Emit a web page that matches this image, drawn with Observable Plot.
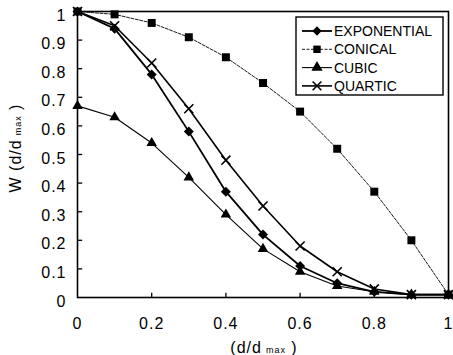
<!DOCTYPE html>
<html><head><meta charset="utf-8">
<script src="https://cdn.jsdelivr.net/npm/d3@7"></script>
<script src="https://cdn.jsdelivr.net/npm/@observablehq/plot@0.6"></script>
<style>
body{margin:0;background:#fff}
#chart{position:relative;width:453px;height:355px}
#chart svg{font-family:"Liberation Sans",Arial,Helvetica,sans-serif}
</style>
</head><body><div id="chart"></div>
<script>
const xValues     = [0, 0.1, 0.2, 0.3, 0.4, 0.5, 0.6, 0.7, 0.8, 0.9, 1];
const exponential = [1, 0.94, 0.78, 0.58, 0.37, 0.22, 0.11, 0.05, 0.02, 0.01, 0.01];
const conical     = [1, 0.99, 0.96, 0.91, 0.84, 0.75, 0.65, 0.52, 0.37, 0.20, 0.01];
const cubic       = [0.67, 0.63, 0.54, 0.42, 0.29, 0.17, 0.09, 0.04, 0.02, 0.01, 0.01];
const quartic     = [1, 0.95, 0.82, 0.66, 0.48, 0.32, 0.18, 0.09, 0.03, 0.01, 0.01];
const seriesNames = ["EXPONENTIAL", "CONICAL", "CUBIC", "QUARTIC"];
const xTicks = [0, 0.2, 0.4, 0.6, 0.8, 1];
const yTicks = [0, 0.1, 0.2, 0.3, 0.4, 0.5, 0.6, 0.7, 0.8, 0.9, 1];
const xLabel = ["(d/d", "max", " )"];
const yLabel = ["W (d/d", "max", " )"];

const seriesValues = [exponential, conical, cubic, quartic];
const styles = [
  {symbol: "diamond2", lineWidth: 1.8, dash: null, filled: true, r: 4.5},
  {symbol: "square", lineWidth: 0.9, dash: "3,1.5", filled: true, r: 4.5},
  {symbol: "triangle", lineWidth: 1.1, dash: null, filled: true, r: 3.9},
  {symbol: "times", lineWidth: 1.6, dash: null, filled: false, r: 4.2}
];
const fmt = d => String(d);

const marks = [];
seriesNames.forEach((name, i) => {
  const data = xValues.map((x, j) => ({x, y: seriesValues[i][j], series: name}));
  const s = styles[i];
  marks.push(Plot.line(data, {x: "x", y: "y", stroke: "black", strokeWidth: s.lineWidth, strokeDasharray: s.dash}));
  marks.push(Plot.dot(data, s.filled
    ? {x: "x", y: "y", symbol: () => s.symbol, r: s.r, fill: "black", stroke: "none"}
    : {x: "x", y: "y", symbol: () => s.symbol, r: s.r, stroke: "black", strokeWidth: 1.6, fill: "none"}));
});

const yInner = yTicks.slice(1, -1);
const xInner = xTicks.slice(1, -1);

const plot = Plot.plot({
  width: 453, height: 355,
  marginLeft: 77, marginRight: 5, marginTop: 11, marginBottom: 58,
  x: {domain: [0, 1]},
  y: {domain: [0, 1]},
  symbol: {type: "identity"},
  marks: [
    Plot.axisY(yTicks, {tickSize: 0, tickPadding: 11, dy: 4, label: null, fontSize: 16, tickFormat: fmt}),
    Plot.axisX(xTicks, {tickSize: 0, tickPadding: 20, label: null, fontSize: 16, tickFormat: fmt}),
    Plot.ruleY(yInner, {y: d => d, x1: 0, x2: 0.014, stroke: "black", strokeWidth: 1.3}),
    Plot.ruleX(xInner, {x: d => d, y1: 0, y2: 0.015, stroke: "black", strokeWidth: 1.3}),
    Plot.frame({stroke: "black", strokeWidth: 1.6}),
    ...marks
  ]
});
document.getElementById("chart").appendChild(plot);

const svg = d3.select(plot);
svg.selectAll('g[aria-label$="tick label"] text').style("letter-spacing", "1px");

// axis titles
const xt = svg.append("text").attr("x", 264).attr("y", 353).attr("text-anchor", "middle")
  .attr("font-size", 16).attr("letter-spacing", "1px");
xt.append("tspan").text(xLabel[0]);
xt.append("tspan").attr("font-size", 9).attr("dx", 4).text(xLabel[1]);
xt.append("tspan").attr("font-size", 16).text(xLabel[2]);

const yt = svg.append("text").attr("transform", "translate(21,148) rotate(-90)").attr("text-anchor", "middle")
  .attr("font-size", 16).attr("letter-spacing", "1px");
yt.append("tspan").text(yLabel[0]);
yt.append("tspan").attr("font-size", 9).attr("dx", 4).text(yLabel[1]);
yt.append("tspan").attr("font-size", 16).text(yLabel[2]);

// legend
const lg = svg.append("g").attr("transform", "translate(296,17)");
lg.append("rect").attr("x", 0).attr("y", 0).attr("width", 147).attr("height", 78)
  .style("fill", "#ffffff").style("stroke", "#000000").style("stroke-width", "1.4px");
const symMap = {diamond2: d3.symbolDiamond2, square: d3.symbolSquare, triangle: d3.symbolTriangle, times: d3.symbolTimes};
seriesNames.forEach((name, i) => {
  const s = styles[i];
  const row = lg.append("g").attr("transform", `translate(0,${14 + i * 18.3})`);
  row.append("line").attr("x1", 6).attr("x2", 36).attr("stroke", "black")
    .attr("stroke-width", s.lineWidth).attr("stroke-dasharray", s.dash);
  row.append("path").attr("transform", "translate(21,0)")
    .attr("d", d3.symbol(symMap[s.symbol], s.filled ? 55 : 52)())
    .attr("fill", s.filled ? "black" : "none").attr("stroke", s.filled ? "none" : "black").attr("stroke-width", 1.6);
  row.append("text").attr("x", 38).attr("dy", "0.36em").attr("font-size", 14)
    .attr("text-anchor", "start").text(name);
});
</script>
</body></html>
